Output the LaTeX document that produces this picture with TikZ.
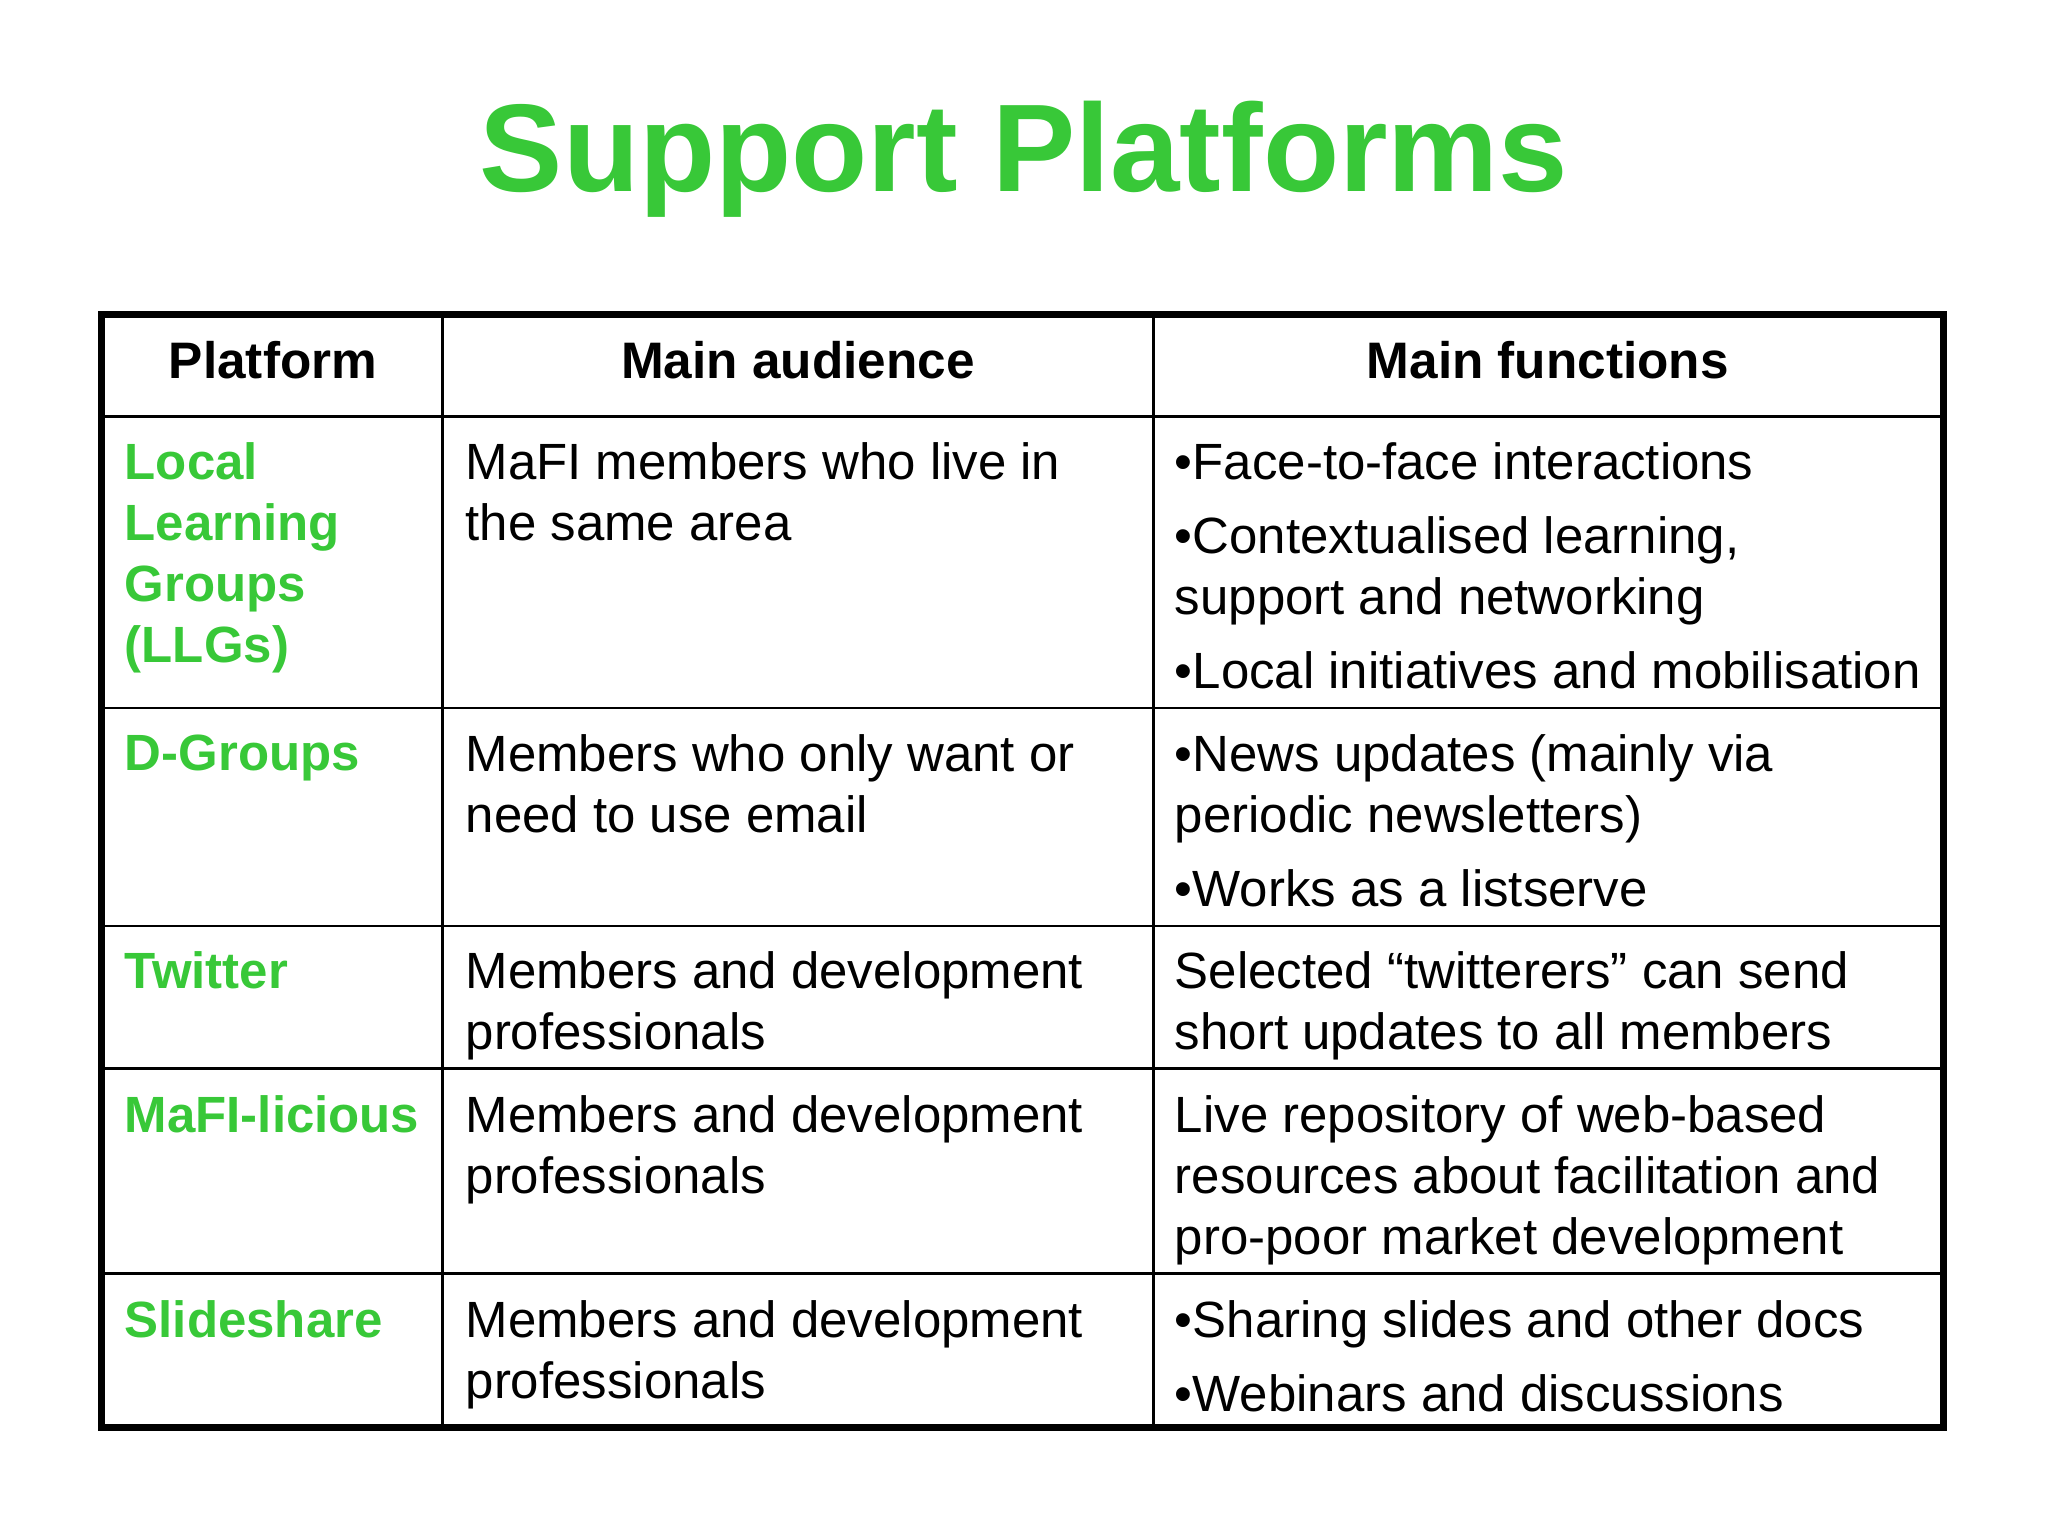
\documentclass[tikz,border=0pt]{standalone}
\usepackage{fontspec}
\setmainfont{Liberation Sans}
\usetikzlibrary{positioning}
\definecolor{mafigreen}{RGB}{56,200,56}
\begin{document}
\begin{tikzpicture}[x=0.01306cm, y=-0.01306cm,
    frame/.style={line width=2pt},
    rule/.style={line width=0.8pt},
    head/.style={font=\fontsize{14.6}{18}\selectfont\bfseries, anchor=center},
    platform/.style={font=\fontsize{14.5}{17.4}\selectfont\bfseries, text=mafigreen, anchor=north west, inner sep=0pt, align=left},
    cell/.style={font=\fontsize{14.5}{17.4}\selectfont, anchor=north west, inner sep=0pt, align=left}
]
    \useasboundingbox (0,0) rectangle (1568,1176);
    \node[font=\fontsize{35.5}{40}\selectfont\bfseries, text=mafigreen] (title) at (784,122) {Support Platforms};
    % Gitter
    \draw[frame] (78,241) rectangle (1488,1093);
    \foreach \y in {319,542,709,818,975}
        \draw[rule] (78,\y) -- (1488,\y);
    \foreach \x in {339,883}
        \draw[rule] (\x,241) -- (\x,1093);
    % Kopfzeile
    \node[head] (hplat) at (209,276) {Platform};
    \node[head] (haud) at (611,276) {Main audience};
    \node[head] (hfun) at (1185,276) {Main functions};
    % Zeilen
    \node[platform] (llg) at (95,338) {Local\\Learning\\Groups\\(LLGs)};
    \node[cell] (llga) at (356,338) {MaFI members who live in\\the same area};
    \node[cell] (llgf) at (899,338) {•Face-to-face interactions\\[0.13cm]•Contextualised learning,\\support and networking\\[0.13cm]•Local initiatives and mobilisation};
    \node[platform] (dgr) at (95,562) {D-Groups};
    \node[cell] (dgra) at (356,562) {Members who only want or\\need to use email};
    \node[cell] (dgrf) at (899,562) {•News updates (mainly via\\periodic newsletters)\\[0.13cm]•Works as a listserve};
    \node[platform] (twi) at (95,728) {Twitter};
    \node[cell] (twia) at (356,728) {Members and development\\professionals};
    \node[cell] (twif) at (899,728) {Selected “twitterers” can send\\short updates to all members};
    \node[platform] (mafi) at (95,838) {MaFI-licious};
    \node[cell] (mafia) at (356,838) {Members and development\\professionals};
    \node[cell] (mafif) at (899,838) {Live repository of web-based\\resources about facilitation and\\pro-poor market development};
    \node[platform] (slide) at (95,995) {Slideshare};
    \node[cell] (slidea) at (356,995) {Members and development\\professionals};
    \node[cell] (slidef) at (899,995) {•Sharing slides and other docs\\[0.13cm]•Webinars and discussions};
\end{tikzpicture}
\end{document}
